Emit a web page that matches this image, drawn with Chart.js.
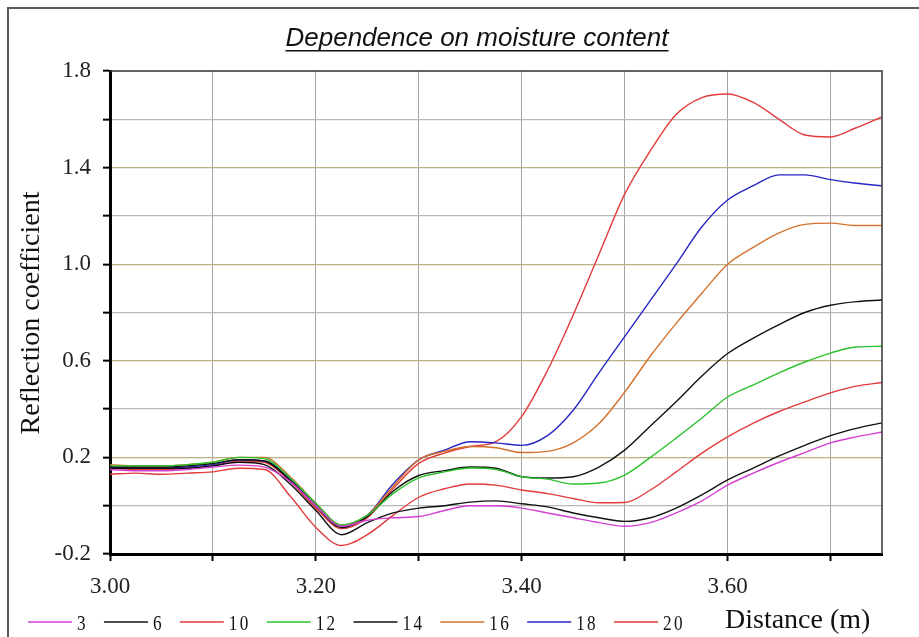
<!DOCTYPE html>
<html>
<head>
<meta charset="utf-8">
<title>Dependence on moisture content</title>
<script src="https://cdn.jsdelivr.net/npm/chart.js@4/dist/chart.umd.min.js"></script>
<style>
    html, body { margin: 0; padding: 0; background: #ffffff; }
    #wrap { width: 919px; height: 637px; }
</style>
</head>
<body>
<div id="wrap"><canvas id="chart" width="919" height="637"></canvas></div>
<script>
// Distance along the line (m)
const distance = [3.000, 3.025, 3.050, 3.075, 3.100, 3.125, 3.150, 3.175, 3.200, 3.225, 3.250,
    3.275, 3.300, 3.325, 3.350, 3.375, 3.400, 3.425, 3.450, 3.475, 3.500, 3.525, 3.550, 3.575,
    3.600, 3.625, 3.650, 3.675, 3.700, 3.725, 3.750];

// Reflection coefficient per moisture content
const moisture3 = [0.150, 0.145, 0.145, 0.150, 0.160, 0.168, 0.160, 0.100, 0.000, -0.085, -0.060, -0.050, -0.045, -0.020, 0.000, 0.000, -0.010, -0.030, -0.050, -0.070, -0.085, -0.070, -0.030, 0.020, 0.085, 0.135, 0.180, 0.220, 0.260, 0.285, 0.305];
const moisture6 = [0.155, 0.155, 0.155, 0.155, 0.165, 0.180, 0.170, 0.090, -0.020, -0.120, -0.070, -0.030, -0.010, 0.000, 0.015, 0.020, 0.008, -0.005, -0.030, -0.050, -0.065, -0.050, -0.010, 0.045, 0.107, 0.156, 0.206, 0.250, 0.290, 0.320, 0.343];
const moisture10 = [0.130, 0.135, 0.130, 0.135, 0.140, 0.155, 0.150, 0.040, -0.090, -0.165, -0.120, -0.040, 0.035, 0.070, 0.090, 0.085, 0.065, 0.050, 0.030, 0.012, 0.013, 0.065, 0.140, 0.218, 0.285, 0.342, 0.390, 0.430, 0.467, 0.495, 0.510];
const moisture12 = [0.165, 0.165, 0.165, 0.170, 0.180, 0.200, 0.195, 0.115, 0.010, -0.080, -0.040, 0.050, 0.115, 0.140, 0.156, 0.150, 0.120, 0.110, 0.090, 0.094, 0.127, 0.200, 0.280, 0.363, 0.450, 0.500, 0.550, 0.595, 0.632, 0.657, 0.660];
const moisture14 = [0.160, 0.160, 0.160, 0.165, 0.175, 0.190, 0.185, 0.105, 0.000, -0.090, -0.045, 0.060, 0.125, 0.145, 0.160, 0.155, 0.120, 0.115, 0.120, 0.160, 0.230, 0.330, 0.430, 0.537, 0.630, 0.694, 0.750, 0.800, 0.830, 0.845, 0.852];
const moisture16 = [0.170, 0.165, 0.165, 0.170, 0.180, 0.200, 0.200, 0.120, 0.010, -0.080, -0.040, 0.080, 0.190, 0.225, 0.245, 0.240, 0.220, 0.225, 0.260, 0.340, 0.470, 0.620, 0.755, 0.880, 1.000, 1.070, 1.130, 1.165, 1.170, 1.160, 1.160];
const moisture18 = [0.160, 0.155, 0.155, 0.160, 0.170, 0.190, 0.185, 0.110, 0.000, -0.085, -0.040, 0.090, 0.190, 0.230, 0.265, 0.260, 0.250, 0.290, 0.395, 0.550, 0.700, 0.850, 1.000, 1.155, 1.266, 1.325, 1.370, 1.370, 1.350, 1.335, 1.325];
const moisture20 = [0.155, 0.150, 0.150, 0.155, 0.165, 0.185, 0.180, 0.100, -0.010, -0.095, -0.050, 0.070, 0.175, 0.218, 0.245, 0.265, 0.370, 0.560, 0.790, 1.040, 1.290, 1.470, 1.620, 1.690, 1.705, 1.670, 1.600, 1.535, 1.527, 1.565, 1.610];

const seriesLabels = ['3', '6', '10', '12', '14', '16', '18', '20'];
const seriesValues = [moisture3, moisture6, moisture10, moisture12, moisture14, moisture16, moisture18, moisture20];
const seriesColors = ['#d43fd4', '#111111', '#e23b3b', '#2cc22c', '#111111', '#d2722e', '#2626c4', '#e23b3b'];

// Axis ticks
const xTicks = [3.0, 3.1, 3.2, 3.3, 3.4, 3.5, 3.6, 3.7];
const xLabelTicks = [3.0, 3.2, 3.4, 3.6];
const yTicks = [-0.2, 0.0, 0.2, 0.4, 0.6, 0.8, 1.0, 1.2, 1.4, 1.6, 1.8];
const yLabelTicks = [-0.2, 0.2, 0.6, 1.0, 1.4, 1.8];

const isIn = (list, v) => list.some(t => Math.abs(t - v) < 1e-6);

const datasets = seriesLabels.map((label, i) => ({
    label: label,
    data: distance.map((d, k) => ({ x: d, y: seriesValues[i][k] })),
    borderColor: seriesColors[i],
    backgroundColor: seriesColors[i],
    borderWidth: 1.4,
    pointRadius: 0,
    cubicInterpolationMode: 'monotone',
    fill: false
}));

// Frame, title, axis titles, legend
const decorations = {
    id: 'decorations',
    beforeDraw(chart) {
        const ctx = chart.ctx;
        ctx.save();
        ctx.fillStyle = '#ffffff';
        ctx.fillRect(0, 0, chart.width, chart.height);
        ctx.restore();
    },
    afterDraw(chart) {
        const ctx = chart.ctx;
        const area = chart.chartArea;
        ctx.save();

        // outer frame
        ctx.strokeStyle = '#5a5a5a';
        ctx.lineWidth = 2;
        ctx.beginPath();
        ctx.moveTo(8, chart.height + 2);
        ctx.lineTo(8, 8);
        ctx.lineTo(chart.width + 2, 8);
        ctx.stroke();

        // top and right edges of the plot
        ctx.strokeStyle = '#333333';
        ctx.lineWidth = 1.5;
        ctx.beginPath();
        ctx.moveTo(area.left, area.top);
        ctx.lineTo(area.right, area.top);
        ctx.lineTo(area.right, area.bottom);
        ctx.stroke();

        // title
        const title = 'Dependence on moisture content';
        ctx.font = 'italic 26px "Liberation Sans", Arial, sans-serif';
        ctx.fillStyle = '#111111';
        ctx.textAlign = 'center';
        ctx.textBaseline = 'alphabetic';
        ctx.fillText(title, 477, 46);
        const tw = ctx.measureText(title).width;
        ctx.fillRect(477 - tw / 2, 50, tw, 1.5);

        // y axis title
        ctx.font = '28px "Liberation Serif", "Times New Roman", serif';
        ctx.save();
        ctx.translate(39, 313);
        ctx.rotate(-Math.PI / 2);
        ctx.textAlign = 'center';
        ctx.fillText('Reflection coefficient', 0, 0);
        ctx.restore();

        // x axis title
        ctx.textAlign = 'left';
        ctx.fillText('Distance (m)', 725, 628);

        // legend
        let x = 28;
        const ly = 622;
        chart.data.datasets.forEach(ds => {
            ctx.strokeStyle = ds.borderColor;
            ctx.lineWidth = 1.4;
            ctx.beginPath();
            ctx.moveTo(x, ly);
            ctx.lineTo(x + 44, ly);
            ctx.stroke();
            ctx.save();
            ctx.translate(x + 49, ly + 8);
            ctx.scale(0.78, 1);
            ctx.font = '22px "Liberation Serif", "Times New Roman", serif';
            ctx.fillStyle = '#111111';
            ctx.textAlign = 'left';
            let w = 0;
            for (const ch of ds.label) {
                ctx.fillText(ch, w, 0);
                w += ctx.measureText(ch).width + 3;
            }
            ctx.restore();
            x += 49 + w * 0.78 + 16;
        });

        ctx.restore();
    }
};

const chart = new Chart(document.getElementById('chart').getContext('2d'), {
    type: 'line',
    data: { datasets: datasets },
    plugins: [decorations],
    options: {
        responsive: false,
        animation: false,
        devicePixelRatio: 1,
        layout: {
            padding: { left: 0, right: 37, top: 71, bottom: 0 }
        },
        plugins: {
            legend: { display: false },
            title: { display: false },
            tooltip: { enabled: false }
        },
        scales: {
            x: {
                type: 'linear',
                min: 3.0,
                max: 3.75,
                afterBuildTicks: scale => {
                    scale.ticks = xTicks.map(v => ({ value: v }));
                },
                afterFit: scale => {
                    scale.height = 83;
                },
                grid: {
                    color: ctx => ctx.tick && Math.abs(ctx.tick.value - 3.0) < 1e-6 ? 'rgba(0,0,0,0)' : '#a4a4a4',
                    lineWidth: 1,
                    drawTicks: true,
                    tickLength: 7,
                    tickColor: '#000000',
                    tickWidth: 2
                },
                border: {
                    color: '#000000',
                    width: 3
                },
                ticks: {
                    autoSkip: false,
                    maxRotation: 0,
                    padding: 12,
                    color: '#222222',
                    font: { family: '"Liberation Serif", "Times New Roman", serif', size: 23 },
                    callback: value => isIn(xLabelTicks, value) ? value.toFixed(2) : ''
                }
            },
            y: {
                type: 'linear',
                min: -0.2,
                max: 1.8,
                afterBuildTicks: scale => {
                    scale.ticks = yTicks.map(v => ({ value: v }));
                },
                afterFit: scale => {
                    scale.width = 110;
                },
                grid: {
                    color: ctx => {
                        if (!ctx.tick) return '#b4b4b4';
                        const v = ctx.tick.value;
                        if (Math.abs(v - 1.8) < 1e-6 || Math.abs(v + 0.2) < 1e-6) return 'rgba(0,0,0,0)';
                        return isIn(yLabelTicks, v) ? '#b9b184' : '#b8b8b8';
                    },
                    lineWidth: 1.3,
                    drawTicks: true,
                    tickLength: 7,
                    tickColor: '#000000',
                    tickWidth: 2
                },
                border: {
                    color: '#000000',
                    width: 3
                },
                ticks: {
                    autoSkip: false,
                    padding: 12,
                    color: '#222222',
                    font: { family: '"Liberation Serif", "Times New Roman", serif', size: 23 },
                    callback: value => isIn(yLabelTicks, value) ? value.toFixed(1) : ''
                }
            }
        }
    }
});
</script>
</body>
</html>
